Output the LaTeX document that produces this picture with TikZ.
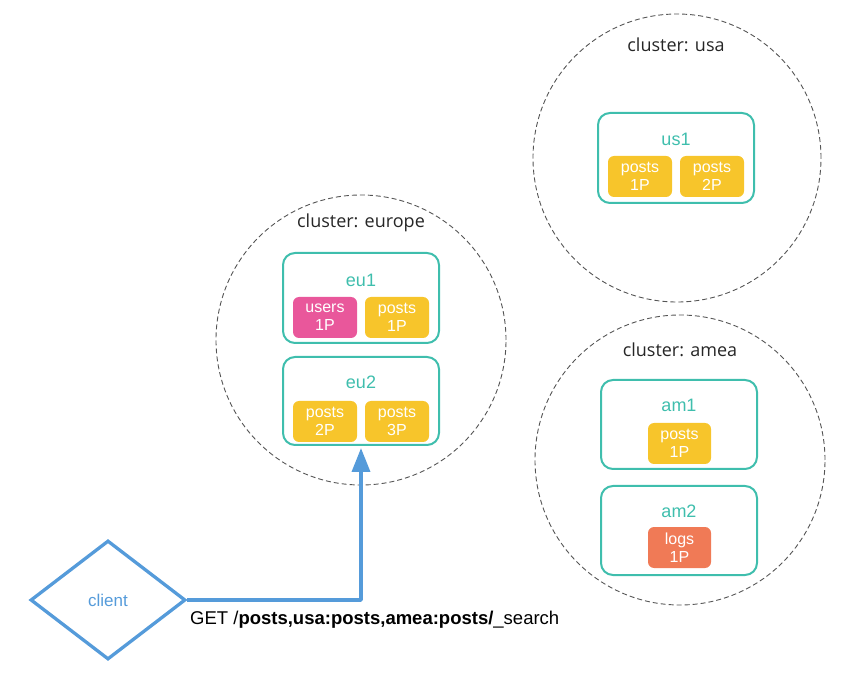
\documentclass[tikz,border=0pt]{standalone}
\usepackage{fontspec}
\setmainfont{Liberation Sans}
\newfontfamily\clusterfont{Open Sans}
\usetikzlibrary{shapes.geometric,arrows.meta}
\definecolor{teal}{HTML}{3FBEAD}
\definecolor{chipyellow}{HTML}{F7C52B}
\definecolor{chippink}{HTML}{E9579B}
\definecolor{chiporange}{HTML}{F07A56}
\definecolor{cblue}{HTML}{559BDA}
\definecolor{dashgray}{HTML}{555555}
\tikzset{
  cluster/.style={draw=dashgray, line width=0.9pt, dash pattern=on 5pt off 3pt, circle, inner sep=0pt},
  clusterlabel/.style={font=\clusterfont\fontsize{18}{20}\selectfont, text=black!85, anchor=base, inner sep=0pt},
  nodebox/.style={draw=teal, line width=2pt, rounded corners=12pt, minimum width=156pt, minimum height=89pt, inner sep=0pt},
  boxlabel/.style={font=\fontsize{18}{20}\selectfont, text=teal, inner sep=0pt},
  chip/.style={fill=#1, rounded corners=6pt, minimum width=64pt, minimum height=41pt, inner sep=0pt, text=white, align=center, font=\fontsize{16}{18}\selectfont},
}
\begin{document}
\begin{tikzpicture}[x=1pt,y=-1pt]
\useasboundingbox (0,0) rectangle (863,676);
% clusters
\node[cluster, minimum size=290pt] (ceu) at (361,340) {};
\node[cluster, minimum size=288pt] (cus) at (677,158) {};
\node[cluster, minimum size=290pt] (cam) at (680,460) {};
\node[clusterlabel] (leu) at (361,228) {cluster: europe};
\node[clusterlabel] (lus) at (676,52) {cluster: usa};
\node[clusterlabel] (lam) at (680,357) {cluster: amea};
% europe
\node[nodebox, minimum height=90pt] (eu1) at (361,298) {};
\node[boxlabel] (eu1l) at (361,280) {eu1};
\node[chip=chippink] (eu1a) at (325,317.5) {users\\1P};
\node[chip=chipyellow] (eu1b) at (397,317.5) {posts\\1P};
\node[nodebox, minimum height=88pt] (eu2) at (361,401) {};
\node[boxlabel] (eu2l) at (361,382) {eu2};
\node[chip=chipyellow] (eu2a) at (325,421.5) {posts\\2P};
\node[chip=chipyellow] (eu2b) at (397,421.5) {posts\\3P};
% usa
\node[nodebox, minimum height=90pt] (us1) at (676,158) {};
\node[boxlabel] (us1l) at (676,139) {us1};
\node[chip=chipyellow] (us1a) at (640,176.5) {posts\\1P};
\node[chip=chipyellow] (us1b) at (712,176.5) {posts\\2P};
% amea
\node[nodebox] (am1) at (679,424.5) {};
\node[boxlabel] (am1l) at (679,405) {am1};
\node[chip=chipyellow, minimum width=63pt] (am1a) at (679.5,443.5) {posts\\1P};
\node[nodebox] (am2) at (679,530.5) {};
\node[boxlabel] (am2l) at (679,511) {am2};
\node[chip=chiporange, minimum width=63pt] (am2a) at (679.5,547.5) {logs\\1P};
% client
\node[diamond, draw=cblue, line width=3.3pt, minimum width=155pt, minimum height=119pt, inner sep=0pt, text=cblue, font=\fontsize{17}{20}\selectfont] (client) at (108,600) {client};
\draw[cblue, line width=3.5pt, line join=round, -{Triangle[length=24pt,width=18pt]}, shorten >=2pt] (client.east) -| (eu2.south);
\node[anchor=west, inner sep=0pt, font=\fontsize{18.5}{20}\selectfont] (get) at (190,620) {GET /\textbf{posts,usa:posts,amea:posts/}\_search};
\end{tikzpicture}
\end{document}
